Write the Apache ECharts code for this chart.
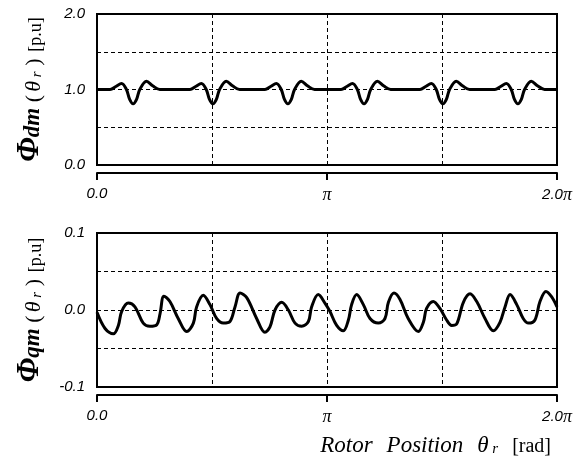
<!DOCTYPE html>
<html>
<head>
<meta charset="utf-8">
<script src="https://cdn.jsdelivr.net/npm/echarts@6/dist/echarts.min.js"></script>
<style>
html,body{margin:0;padding:0;background:#fff;}
#chart{width:578px;height:462px;}
</style>
</head>
<body>
<div id="chart"></div>
<script>
// Rotor position in units of pi
const thetaD = [0, 0.057, 0.082, 0.107, 0.128, 0.142, 0.157, 0.172, 0.186, 0.215, 0.242, 0.273,
  0.404, 0.429, 0.454, 0.475, 0.489, 0.504, 0.519, 0.533, 0.562, 0.589, 0.620,
  0.730, 0.755, 0.780, 0.801, 0.815, 0.830, 0.845, 0.859, 0.888, 0.915, 0.946,
  1.061, 1.086, 1.111, 1.132, 1.146, 1.161, 1.176, 1.190, 1.219, 1.246, 1.277,
  1.404, 1.429, 1.454, 1.475, 1.489, 1.504, 1.519, 1.533, 1.562, 1.589, 1.620,
  1.730, 1.755, 1.780, 1.801, 1.815, 1.830, 1.845, 1.859, 1.888, 1.915, 1.946, 2.0];
const phiD = [1.00, 1.00, 1.04, 1.08, 1.00, 0.87, 0.81, 0.87, 1.00, 1.11, 1.05, 1.00,
  1.00, 1.04, 1.08, 1.00, 0.87, 0.81, 0.87, 1.00, 1.11, 1.05, 1.00,
  1.00, 1.04, 1.08, 1.00, 0.87, 0.81, 0.87, 1.00, 1.11, 1.05, 1.00,
  1.00, 1.04, 1.08, 1.00, 0.87, 0.81, 0.87, 1.00, 1.11, 1.05, 1.00,
  1.00, 1.04, 1.08, 1.00, 0.87, 0.81, 0.87, 1.00, 1.11, 1.05, 1.00,
  1.00, 1.04, 1.08, 1.00, 0.87, 0.81, 0.87, 1.00, 1.11, 1.05, 1.00, 1.00];

const thetaQ = [0, 0.035, 0.071, 0.093, 0.107, 0.136, 0.165, 0.201, 0.230, 0.260, 0.274, 0.291, 0.317,
  0.353, 0.390, 0.419, 0.433, 0.462, 0.491, 0.520, 0.549, 0.578, 0.600, 0.622, 0.651,
  0.694, 0.730, 0.752, 0.774, 0.803, 0.832, 0.861, 0.890, 0.919, 0.933, 0.962, 0.991,
  1.013, 1.042, 1.071, 1.093, 1.107, 1.129, 1.158, 1.187, 1.223, 1.252, 1.267, 1.291, 1.317,
  1.353, 1.397, 1.419, 1.433, 1.462, 1.491, 1.520, 1.542, 1.564, 1.593, 1.622, 1.651,
  1.687, 1.723, 1.752, 1.774, 1.796, 1.825, 1.853, 1.876, 1.904, 1.926, 1.952, 1.977, 2.0];
const phiQ = [-0.003, -0.024, -0.031, -0.020, -0.002, 0.009, 0.004, -0.017, -0.021, -0.019, -0.005, 0.018, 0.011,
  -0.011, -0.028, -0.017, 0.004, 0.019, 0.007, -0.011, -0.017, -0.015, 0.004, 0.022, 0.016,
  -0.011, -0.029, -0.022, 0.000, 0.010, 0.000, -0.017, -0.021, -0.015, 0.004, 0.020, 0.009,
  -0.002, -0.020, -0.027, -0.013, 0.007, 0.020, 0.007, -0.011, -0.017, -0.011, 0.010, 0.022, 0.014,
  -0.011, -0.028, -0.016, 0.002, 0.011, 0.002, -0.013, -0.020, -0.018, 0.010, 0.021, 0.011,
  -0.011, -0.027, -0.016, 0.004, 0.020, 0.007, -0.011, -0.017, -0.013, 0.011, 0.024, 0.017, 0.004];

const xTickValues = [0, 1, 2];
const xTickLabels = ['{n|0.0}', '{p|\u03c0}', '{n|2.0}{p|\u03c0}'];
const yTopLabels = ['0.0', '1.0', '2.0'];
const yBotLabels = ['-0.1', '0.0', '0.1'];

const pairs = (xs, ys) => xs.map((x, i) => [x, ys[i]]);

const dash = { color: '#000', width: 1, type: [4, 3] };
const tickFont = { color: '#000', fontStyle: 'italic', fontFamily: 'Liberation Sans', fontSize: 15 };
const xRich = {
  n: { color: '#000', fontStyle: 'italic', fontFamily: 'Liberation Sans', fontSize: 15 },
  p: { color: '#000', fontStyle: 'italic', fontFamily: 'Liberation Serif', fontSize: 18 }
};

function mainX(gi) {
  return { gridIndex: gi, type: 'value', min: 0, max: 2, interval: 0.5,
    axisLine: { show: false }, axisTick: { show: false }, axisLabel: { show: false },
    splitLine: { show: true, lineStyle: dash } };
}
function subX(gi) {
  return { gridIndex: gi, type: 'value', min: 0, max: 2, interval: 1, position: 'bottom', offset: 8,
    axisLine: { show: true, onZero: false, lineStyle: { color: '#000', width: 2 } },
    axisTick: { show: true, length: 7, lineStyle: { color: '#000', width: 2 } },
    splitLine: { show: false },
    axisLabel: { margin: 13, rich: xRich,
      formatter: v => { const i = xTickValues.indexOf(Math.round(v)); return i >= 0 ? xTickLabels[i] : ''; } } };
}

const serif = 'Liberation Serif';
const nameRich = {
  phi: { fontFamily: serif, fontStyle: 'italic', fontWeight: 'bold', fontSize: 31, color: '#000', verticalAlign: 'bottom' },
  sub: { fontFamily: serif, fontStyle: 'italic', fontWeight: 'bold', fontSize: 23, color: '#000', verticalAlign: 'bottom' },
  par: { fontFamily: serif, fontSize: 22, color: '#000', verticalAlign: 'bottom' },
  th: { fontFamily: serif, fontStyle: 'italic', fontSize: 22, color: '#000', verticalAlign: 'bottom' },
  r: { fontFamily: serif, fontStyle: 'italic', fontSize: 15, color: '#000', verticalAlign: 'bottom' },
  u: { fontFamily: serif, fontSize: 18, color: '#000', verticalAlign: 'bottom' }
};

const option = {
  backgroundColor: '#fff',
  animation: false,
  title: {
    text: '{a|Rotor}{s| }{a|Position}{s|  }{b|\u03b8}{c| r}{s| }{d|[rad]}',
    right: 22, top: 429,
    textStyle: { fontWeight: 'normal', rich: {
      a: { fontFamily: serif, fontStyle: 'italic', fontWeight: 'normal', fontSize: 23, color: '#000', verticalAlign: 'bottom' },
      s: { fontFamily: serif, fontWeight: 'normal', fontSize: 23, color: '#000', verticalAlign: 'bottom', width: 14 },
      b: { fontFamily: serif, fontStyle: 'italic', fontWeight: 'normal', fontSize: 23, color: '#000', verticalAlign: 'bottom' },
      c: { fontFamily: serif, fontStyle: 'italic', fontWeight: 'normal', fontSize: 15, color: '#000', verticalAlign: 'bottom' },
      d: { fontFamily: serif, fontWeight: 'normal', fontSize: 20, color: '#000', verticalAlign: 'bottom' }
    } }
  },
  grid: [
    { left: 97, right: 21, top: 14, height: 151, show: true, borderColor: '#000', borderWidth: 2, backgroundColor: 'transparent' },
    { left: 97, right: 21, top: 233, height: 154, show: true, borderColor: '#000', borderWidth: 2, backgroundColor: 'transparent' }
  ],
  xAxis: [mainX(0), subX(0), mainX(1), subX(1)],
  yAxis: [
    { gridIndex: 0, type: 'value', min: 0, max: 2, interval: 0.5,
      axisLine: { show: false }, axisTick: { show: false },
      splitLine: { show: true, lineStyle: dash },
      axisLabel: { margin: 12, ...tickFont,
        formatter: v => { const k = Math.round(v); return Math.abs(v - k) < 1e-6 ? yTopLabels[k] : ''; } },
      name: '{phi|\u03a6}{sub|dm}{par| (} {th|\u03b8}{r| r}{par| )}  {u|[p.u]}',
      nameLocation: 'middle', nameRotate: 90, nameGap: 52,
      nameTextStyle: { rich: nameRich } },
    { gridIndex: 1, type: 'value', min: -0.1, max: 0.1, interval: 0.05,
      axisLine: { show: false }, axisTick: { show: false },
      splitLine: { show: true, lineStyle: dash },
      axisLabel: { margin: 12, ...tickFont,
        formatter: v => { const k = Math.round(v * 10); return Math.abs(v * 10 - k) < 1e-6 ? yBotLabels[k + 1] : ''; } },
      name: '{phi|\u03a6}{sub|qm}{par| (} {th|\u03b8}{r| r}{par| )}  {u|[p.u]}',
      nameLocation: 'middle', nameRotate: 90, nameGap: 52,
      nameTextStyle: { rich: nameRich } }
  ],
  series: [
    { type: 'line', xAxisIndex: 0, yAxisIndex: 0, data: pairs(thetaD, phiD),
      showSymbol: false, smooth: 0.35, lineStyle: { color: '#000', width: 3 } },
    { type: 'line', xAxisIndex: 2, yAxisIndex: 1, data: pairs(thetaQ, phiQ),
      showSymbol: false, smooth: 0.35, lineStyle: { color: '#000', width: 3 } }
  ]
};

const chart = echarts.init(document.getElementById('chart'), null, { renderer: 'canvas' });
chart.setOption(option);
</script>
</body>
</html>
